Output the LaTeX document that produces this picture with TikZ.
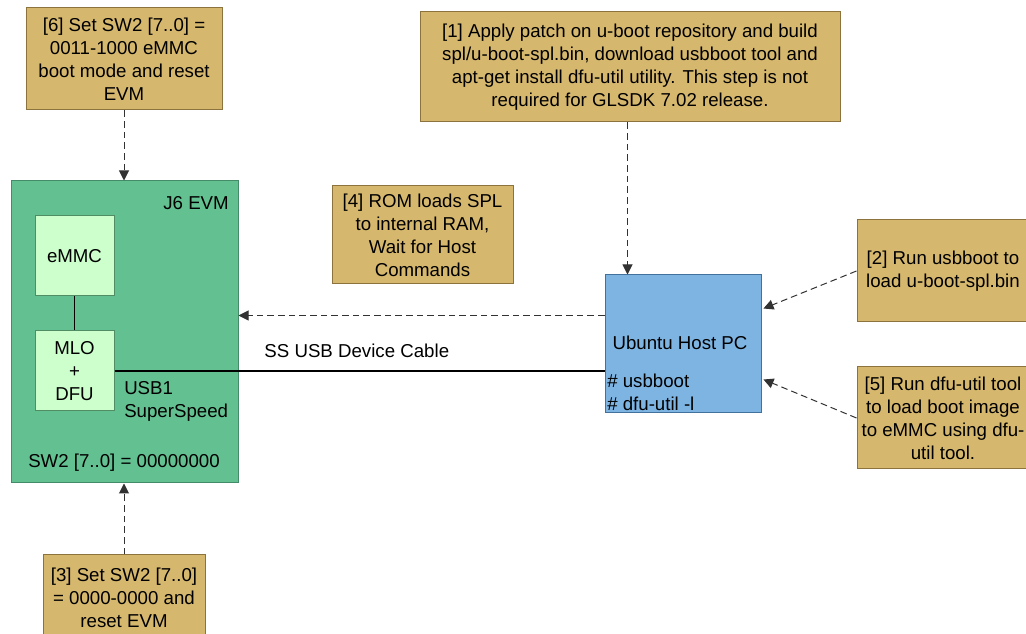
\documentclass[tikz,border=0pt]{standalone}
\usepackage{fontspec}
\setmainfont{Liberation Sans}
\usetikzlibrary{arrows.meta,calc}
\definecolor{tanfill}{RGB}{213,183,110}
\definecolor{tanline}{RGB}{140,115,62}
\definecolor{evmfill}{RGB}{99,192,145}
\definecolor{evmline}{RGB}{68,140,105}
\definecolor{partfill}{RGB}{204,255,204}
\definecolor{partline}{RGB}{80,140,100}
\definecolor{hostfill}{RGB}{126,180,226}
\definecolor{hostline}{RGB}{65,113,156}
\definecolor{flowline}{RGB}{50,50,50}
\begin{document}
\begin{tikzpicture}[x=0.75pt,y=-0.75pt,
  txt/.style={font=\fontsize{14}{17.25}\selectfont, inner sep=0pt, align=center},
  tanbox/.style={txt, draw=tanline, fill=tanfill, line width=0.75pt},
  evmbox/.style={txt, draw=evmline, fill=evmfill, line width=0.75pt},
  partbox/.style={txt, draw=partline, fill=partfill, line width=0.75pt},
  hostbox/.style={txt, draw=hostline, fill=hostfill, line width=0.75pt},
  flow/.style={draw=flowline, line width=0.75pt, dash pattern=on 5pt off 3pt,
    -{Triangle[length=7.5pt,width=7.5pt]}},
  cable/.style={line width=1.8pt},
  link/.style={line width=0.75pt}]
\useasboundingbox (0,0) rectangle (1026,634);
\clip (0,0) rectangle (1026,634);

% step boxes
\node[tanbox, minimum width=147pt, minimum height=76.5pt] (b6) at (124,59)
  {[6] Set SW2 [7..0] =\\0011-1000 eMMC\\boot mode and reset\\EVM};
\node[tanbox, minimum width=315pt, minimum height=82.5pt] (b1) at (630,67)
  {[1] Apply patch on u-boot repository and build\\spl/u-boot-spl.bin, download usbboot tool and\\apt-get install dfu-util utility. This step is not\\required for GLSDK 7.02 release.};
\node[tanbox, minimum width=135.75pt, minimum height=73.5pt] (b4) at (422.5,235)
  {[4] ROM loads SPL\\to internal RAM,\\Wait for Host\\Commands};
\node[tanbox, minimum width=121.5pt, minimum height=64.5pt] (b3) at (124,598)
  {[3] Set SW2 [7..0]\\= 0000-0000 and\\reset EVM};
\node[tanbox, minimum width=129pt, minimum height=76.5pt] (b2) at (943,271)
  {[2] Run usbboot to\\load u-boot-spl.bin};
\node[tanbox, minimum width=129pt, minimum height=76.5pt] (b5) at (943,418)
  {[5] Run dfu-util tool\\to load boot image\\to eMMC using dfu-\\util tool.};

% J6 EVM board
\node[evmbox, minimum width=170.25pt, minimum height=226.5pt] (j6) at (124.5,332) {};
\node[txt, anchor=east] (j6t) at (229,203) {J6 EVM};
\node[partbox, minimum width=59.25pt, minimum height=60pt] (emmc) at (74.5,256) {eMMC};
\node[partbox, minimum width=59.25pt, minimum height=60pt] (mlo) at (74.5,371) {MLO\\+\\DFU};
\node[txt, anchor=west, align=left] (usb1) at (124,401.5) {USB1\\SuperSpeed};
\node[txt] (sw2) at (124,463) {SW2 [7..0] = 00000000};

% host PC
\node[hostbox, minimum width=117pt, minimum height=103.5pt] (ub) at (683,344) {};
\node[txt] (ubt) at (680,343) {Ubuntu Host PC};
\node[txt, anchor=west, align=left] (cmds) at (607,392.5) {\# usbboot\\\# dfu-util -l};

% connectors
\draw[link] (emmc) -- (mlo);
\draw[cable] (mlo.east) -- (mlo.east -| ub.west)
  node[txt, midway, above=9pt, xshift=-2pt] (cab) {SS USB Device Cable};
\draw[flow] (b6.south) -- (b6.south |- j6.north);
\draw[flow] (b3.north) -- (b3.north |- j6.south);
\coordinate (hostin) at ($(ub.north west)+(23,0)$);
\draw[flow] (hostin |- b1.south) -- (hostin);
\coordinate (hostout) at ($(ub.north west)+(0,41)$);
\draw[flow] (hostout) -- (hostout -| j6.east);
\draw[flow] (b2.west) -- ($(ub.north east)+(2,34)$);
\draw[flow] (b5.west) -- ($(ub.north east)+(2,105)$);
\end{tikzpicture}
\end{document}
